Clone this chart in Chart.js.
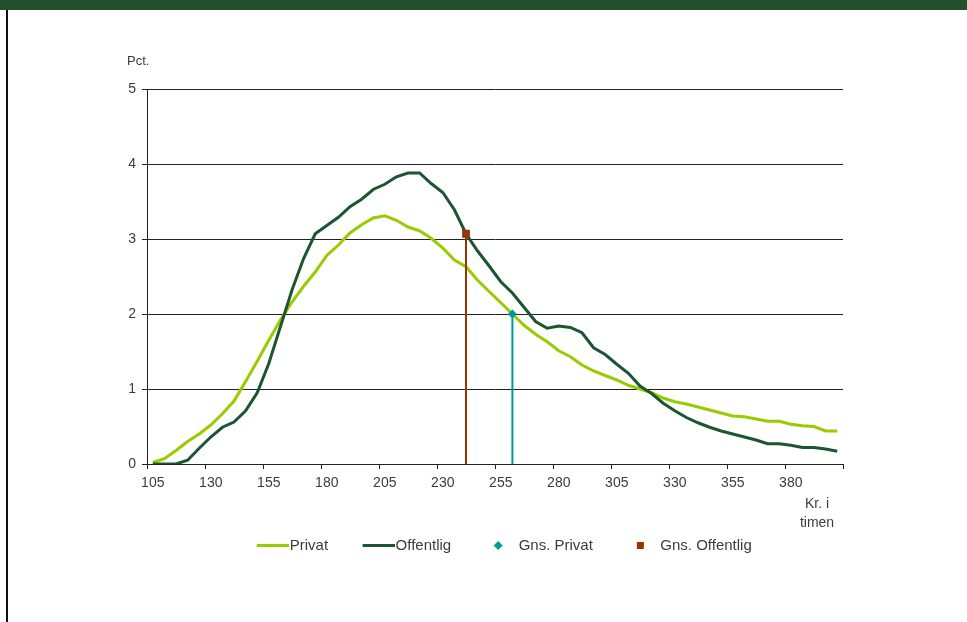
<!DOCTYPE html>
<html>
<head>
<meta charset="utf-8">
<script src="https://cdn.jsdelivr.net/npm/chart.js@4/dist/chart.umd.min.js"></script>
<style>
  html, body { margin: 0; padding: 0; background: #ffffff; }
  #wrap { position: relative; width: 967px; height: 622px; overflow: hidden; background: #ffffff; }
  #band { position: absolute; left: 0; top: 0; width: 967px; height: 10px; background: #24502c; }
  #rule { position: absolute; left: 6px; top: 10px; width: 2px; height: 612px; background: #111111; }
  #c { position: absolute; left: 0; top: 0; }
</style>
</head>
<body>
<div id="wrap">
  <div id="band"></div>
  <div id="rule"></div>
  <canvas id="c" width="967" height="622"></canvas>
</div>
<script>
// Hourly wage bands (kr. per hour), 5 kr. steps
const categories = [
  '105','110','115','120','125','130','135','140','145','150',
  '155','160','165','170','175','180','185','190','195','200',
  '205','210','215','220','225','230','235','240','245','250',
  '255','260','265','270','275','280','285','290','295','300',
  '305','310','315','320','325','330','335','340','345','350',
  '355','360','365','370','375','380','385','390','395','400'
];

// Share of employees in each band, pct.
const privat = [
  0.02, 0.07, 0.18, 0.30, 0.40, 0.52, 0.67, 0.84, 1.10, 1.37,
  1.65, 1.92, 2.16, 2.37, 2.56, 2.78, 2.92, 3.08, 3.19, 3.28,
  3.31, 3.25, 3.16, 3.11, 3.01, 2.88, 2.72, 2.63, 2.45, 2.30,
  2.15, 2.00, 1.85, 1.73, 1.63, 1.51, 1.43, 1.32, 1.24, 1.18,
  1.12, 1.05, 1.00, 0.95, 0.88, 0.83, 0.80, 0.76, 0.72, 0.68,
  0.64, 0.63, 0.60, 0.57, 0.57, 0.53, 0.51, 0.50, 0.44, 0.44
];
const offentlig = [
  0.00, 0.00, 0.00, 0.05, 0.21, 0.36, 0.49, 0.56, 0.71, 0.95,
  1.34, 1.83, 2.32, 2.74, 3.07, 3.18, 3.29, 3.43, 3.53, 3.66,
  3.73, 3.83, 3.88, 3.88, 3.74, 3.62, 3.39, 3.07, 2.84, 2.64,
  2.43, 2.28, 2.09, 1.90, 1.81, 1.84, 1.82, 1.75, 1.55, 1.46,
  1.33, 1.21, 1.04, 0.94, 0.81, 0.71, 0.62, 0.55, 0.49, 0.44,
  0.40, 0.36, 0.32, 0.27, 0.27, 0.25, 0.22, 0.22, 0.20, 0.17
];

// Averages: wage band and share at that band
const avgPrivatBand = '260';
const avgPrivatValue = 2.00;
const avgOffentligBand = '240';
const avgOffentligValue = 3.07;

// Axis labelling
const xTickLabels = ['105','130','155','180','205','230','255','280','305','330','355','380'];
const yTicks = [0, 1, 2, 3, 4, 5];
const yCaption = 'Pct.';
const xCaption = ['Kr. i', 'timen'];

const FONT = "'Liberation Sans', Arial, sans-serif";
const TEXT = '#3c3c3c';
const AXIS = '#222222';
const C_PRIVAT = '#99cc00';
const C_OFFENTLIG = '#1b5531';
const C_AVG_PRIVAT = '#009999';
const C_AVG_OFFENTLIG = '#993300';

// Legend swatches
function lineSwatch(color) {
  const c = document.createElement('canvas');
  c.width = 45; c.height = 3;
  const g = c.getContext('2d');
  g.fillStyle = color;
  g.fillRect(13, 0, 32, 3);
  return c;
}
function diamondSwatch(color) {
  const c = document.createElement('canvas');
  c.width = 16; c.height = 9;
  const g = c.getContext('2d');
  g.fillStyle = color;
  g.beginPath();
  g.moveTo(11, 0); g.lineTo(15.5, 4.5); g.lineTo(11, 9); g.lineTo(6.5, 4.5);
  g.closePath(); g.fill();
  return c;
}
function squareSwatch(color) {
  const c = document.createElement('canvas');
  c.width = 16; c.height = 7;
  const g = c.getContext('2d');
  g.fillStyle = color;
  g.fillRect(8, 0, 7, 7);
  return c;
}
const swatches = [
  lineSwatch(C_PRIVAT),
  lineSwatch(C_OFFENTLIG),
  diamondSwatch(C_AVG_PRIVAT),
  squareSwatch(C_AVG_OFFENTLIG)
];

// Unit captions above the value axis and under the end of the wage axis
const axisCaptions = {
  id: 'axisCaptions',
  afterDraw(chart) {
    const { ctx, chartArea } = chart;
    ctx.save();
    ctx.fillStyle = TEXT;
    ctx.font = '13px ' + FONT;
    ctx.textBaseline = 'middle';
    ctx.textAlign = 'left';
    ctx.fillText(yCaption, chartArea.left - 20, chartArea.top - 28);
    ctx.font = '14px ' + FONT;
    ctx.textAlign = 'center';
    xCaption.forEach((line, i) => {
      ctx.fillText(line, chartArea.right - 26, chartArea.bottom + 40 + i * 19);
    });
    ctx.restore();
  }
};

new Chart(document.getElementById('c'), {
  type: 'line',
  data: {
    labels: categories,
    datasets: [
      {
        label: 'Privat', data: privat,
        borderColor: C_PRIVAT, backgroundColor: C_PRIVAT,
        borderWidth: 3, pointRadius: 0, tension: 0, order: 4
      },
      {
        label: 'Offentlig', data: offentlig,
        borderColor: C_OFFENTLIG, backgroundColor: C_OFFENTLIG,
        borderWidth: 3, pointRadius: 0, tension: 0, order: 3
      },
      {
        label: 'Gns. Privat',
        data: [{ x: avgPrivatBand, y: 0 }, { x: avgPrivatBand, y: avgPrivatValue }],
        borderColor: C_AVG_PRIVAT, backgroundColor: C_AVG_PRIVAT,
        borderWidth: 2, pointStyle: 'rectRot',
        pointRadius: c => (c.dataIndex === 1 ? 4.5 : 0),
        pointBackgroundColor: C_AVG_PRIVAT, pointBorderWidth: 0, order: 2
      },
      {
        label: 'Gns. Offentlig',
        data: [{ x: avgOffentligBand, y: 0 }, { x: avgOffentligBand, y: avgOffentligValue }],
        borderColor: C_AVG_OFFENTLIG, backgroundColor: C_AVG_OFFENTLIG,
        borderWidth: 2, pointStyle: 'rect',
        pointRadius: c => (c.dataIndex === 1 ? 5.5 : 0),
        pointBackgroundColor: C_AVG_OFFENTLIG, pointBorderWidth: 0, order: 1
      }
    ]
  },
  options: {
    responsive: false,
    animation: false,
    devicePixelRatio: 1,
    layout: { padding: { top: 89, left: 35, right: 0, bottom: 59 } },
    scales: {
      x: {
        type: 'category',
        offset: true,
        grid: {
          offset: true,
          drawOnChartArea: false,
          drawTicks: true,
          tickLength: 5,
          color: c => (!c.tick || xTickLabels.includes(c.tick.label)) ? AXIS : 'rgba(0,0,0,0)'
        },
        border: { display: true, color: AXIS, width: 1 },
        ticks: {
          autoSkip: false,
          maxRotation: 0,
          padding: 6,
          color: TEXT,
          font: { family: FONT, size: 14 },
          callback: (v, i) => (xTickLabels.includes(categories[i]) ? categories[i] : '')
        },
        afterFit: s => { s.height = 46; }
      },
      y: {
        type: 'linear',
        min: yTicks[0],
        max: yTicks[yTicks.length - 1],
        afterBuildTicks: s => { s.ticks = yTicks.map(v => ({ value: v })); },
        grid: { color: AXIS, lineWidth: 1, tickLength: 5, drawTicks: true },
        border: { display: true, color: AXIS, width: 1 },
        ticks: { padding: 6, color: TEXT, font: { family: FONT, size: 14 } },
        afterFit: s => { s.width = 112; }
      },
      rightGutter: {
        type: 'linear',
        position: 'right',
        display: true,
        grid: { display: false },
        border: { display: false },
        ticks: { display: false },
        afterFit: s => { s.width = 124; }
      }
    },
    plugins: {
      tooltip: { enabled: false },
      legend: {
        position: 'bottom',
        labels: {
          usePointStyle: true,
          pointStyleWidth: 32,
          boxHeight: 15,
          padding: 28,
          color: TEXT,
          font: { family: FONT, size: 15 },
          generateLabels: chart => chart.data.datasets.map((ds, i) => ({
            text: ds.label,
            pointStyle: swatches[i],
            fillStyle: 'rgba(0,0,0,0)',
            strokeStyle: 'rgba(0,0,0,0)',
            lineWidth: 0,
            hidden: false,
            datasetIndex: i,
            fontColor: TEXT
          }))
        }
      }
    }
  },
  plugins: [axisCaptions]
});
</script>
</body>
</html>
